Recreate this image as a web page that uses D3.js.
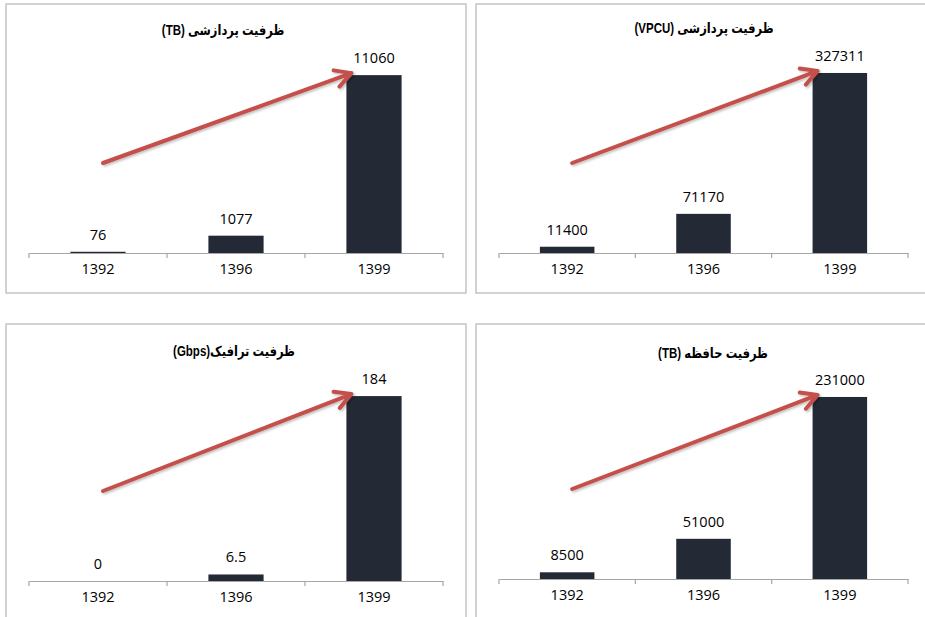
<!DOCTYPE html>
<html>
<head>
<meta charset="utf-8">
<script src="https://cdn.jsdelivr.net/npm/d3@7/dist/d3.min.js"></script>
<style>
  html, body { margin: 0; padding: 0; background: #fff; }
  svg { display: block; }
</style>
</head>
<body>
<svg id="chart" width="925" height="617"></svg>
<script>
// ---- data ----
const categories = ["1392", "1396", "1399"];
const processingTB = [76, 1077, 11060];
const processingVPCU = [11400, 71170, 327311];
const trafficGbps = [0, 6.5, 184];
const storageTB = [8500, 51000, 231000];
const titles = [
  "ظرفیت پردازشی (TB)",
  "ظرفیت پردازشی (VPCU)",
  "ظرفیت ترافیک(Gbps)",
  "ظرفیت حافظه (TB)"
];
const axisMax = [12000, 350000, 200, 250000];

// ---- layout ----
const panels = [
  { values: processingTB,   title: titles[0], yMax: axisMax[0], box: [6, 4, 460, 289],   axisY: 253, plotH: 193, xr: [29, 443],  titleX: 223, titleY: 35 },
  { values: processingVPCU, title: titles[1], yMax: axisMax[1], box: [476, 4, 470, 289], axisY: 253, plotH: 192.5, xr: [499, 908], titleX: 704, titleY: 33 },
  { values: trafficGbps,    title: titles[2], yMax: axisMax[2], box: [6, 324, 460, 310], axisY: 581, plotH: 201, xr: [29, 443],  titleX: 234, titleY: 356 },
  { values: storageTB,      title: titles[3], yMax: axisMax[3], box: [476, 324, 470, 310], axisY: 579, plotH: 197, xr: [499, 908], titleX: 713, titleY: 358 }
];

const svg = d3.select("#chart");
const FONT = "'Open Sans', 'DejaVu Sans', sans-serif";
const BAR = "#232a36";
const ARROW = "#c4504c";

const defs = svg.append("defs");
const f = defs.append("filter").attr("id", "shadow").attr("x", "-10%").attr("y", "-10%").attr("width", "130%").attr("height", "130%");
f.append("feDropShadow").attr("dx", 1.5).attr("dy", 1.5).attr("stdDeviation", 1).attr("flood-color", "#000").attr("flood-opacity", 0.25);

panels.forEach(p => {
  const g = svg.append("g");
  const [bx, by, bw, bh] = p.box;
  g.append("rect")
    .attr("x", bx).attr("y", by).attr("width", bw).attr("height", bh)
    .attr("fill", "#fff").attr("stroke", "#c4c4c4").attr("stroke-width", 1.5);

  const x = d3.scaleBand().domain(categories).range(p.xr).paddingInner(0.6).paddingOuter(0.3);
  const y = d3.scaleLinear().domain([0, p.yMax]).range([p.axisY, p.axisY - p.plotH]);

  // bars
  g.selectAll("rect.bar").data(p.values).join("rect")
    .attr("class", "bar")
    .attr("x", (d, i) => x(categories[i]))
    .attr("width", x.bandwidth())
    .attr("y", d => y(d))
    .attr("height", d => y(0) - y(d))
    .attr("fill", BAR);

  // value labels
  g.selectAll("text.val").data(p.values).join("text")
    .attr("class", "val")
    .attr("x", (d, i) => x(categories[i]) + x.bandwidth() / 2)
    .attr("y", d => y(d) - 12)
    .attr("text-anchor", "middle")
    .attr("font-family", FONT).attr("font-size", 14.5).attr("fill", "#000")
    .text(d => d);

  // axis
  const ax = g.append("g").attr("transform", `translate(0,${p.axisY})`)
    .call(d3.axisBottom(x).tickSize(0).tickPadding(11));
  ax.select(".domain").attr("stroke", "#a6a6a6").attr("stroke-width", 1.2);
  ax.selectAll("text").attr("font-family", FONT).attr("font-size", 14.5).attr("fill", "#000");
  // tick marks at category boundaries
  const step = x.step();
  const bounds = categories.map(c => x(c) - step * x.paddingInner() / 2 - (c === categories[0] ? step * (x.paddingOuter() - x.paddingInner() / 2) : 0));
  bounds.push(p.xr[1]);
  g.selectAll("line.tick").data(bounds).join("line")
    .attr("class", "tick")
    .attr("x1", d => d).attr("x2", d => d)
    .attr("y1", p.axisY).attr("y2", p.axisY + 5)
    .attr("stroke", "#a6a6a6").attr("stroke-width", 1.2);

  // title
  g.append("text")
    .attr("transform", `translate(${p.titleX},${p.titleY}) scale(0.82,1)`)
    .attr("text-anchor", "middle")
    .attr("direction", "rtl")
    .attr("font-family", "'Liberation Sans', 'DejaVu Sans', sans-serif")
    .attr("font-weight", "bold").attr("font-size", 14).attr("fill", "#000")
    .text(p.title);

  // trend arrow
  const last = categories[categories.length - 1];
  const sx = x(categories[0]) + x.bandwidth() / 2 + 5;
  const sy = p.axisY - 90;
  const tx = x(last) + 5;
  const ty = y(p.values[p.values.length - 1]) - 2;
  const ang = Math.atan2(ty - sy, tx - sx);
  const hl = 18, ha = 0.5;
  const h1 = [tx - hl * Math.cos(ang - ha), ty - hl * Math.sin(ang - ha)];
  const h2 = [tx - hl * Math.cos(ang + ha), ty - hl * Math.sin(ang + ha)];
  const line = d3.line();
  g.append("path")
    .attr("d", line([[sx, sy], [tx, ty]]) + line([h1, [tx, ty], h2]))
    .attr("fill", "none").attr("stroke", ARROW).attr("stroke-width", 4)
    .attr("stroke-linecap", "round").attr("stroke-linejoin", "round")
    .attr("filter", "url(#shadow)");
});
</script>
</body>
</html>
